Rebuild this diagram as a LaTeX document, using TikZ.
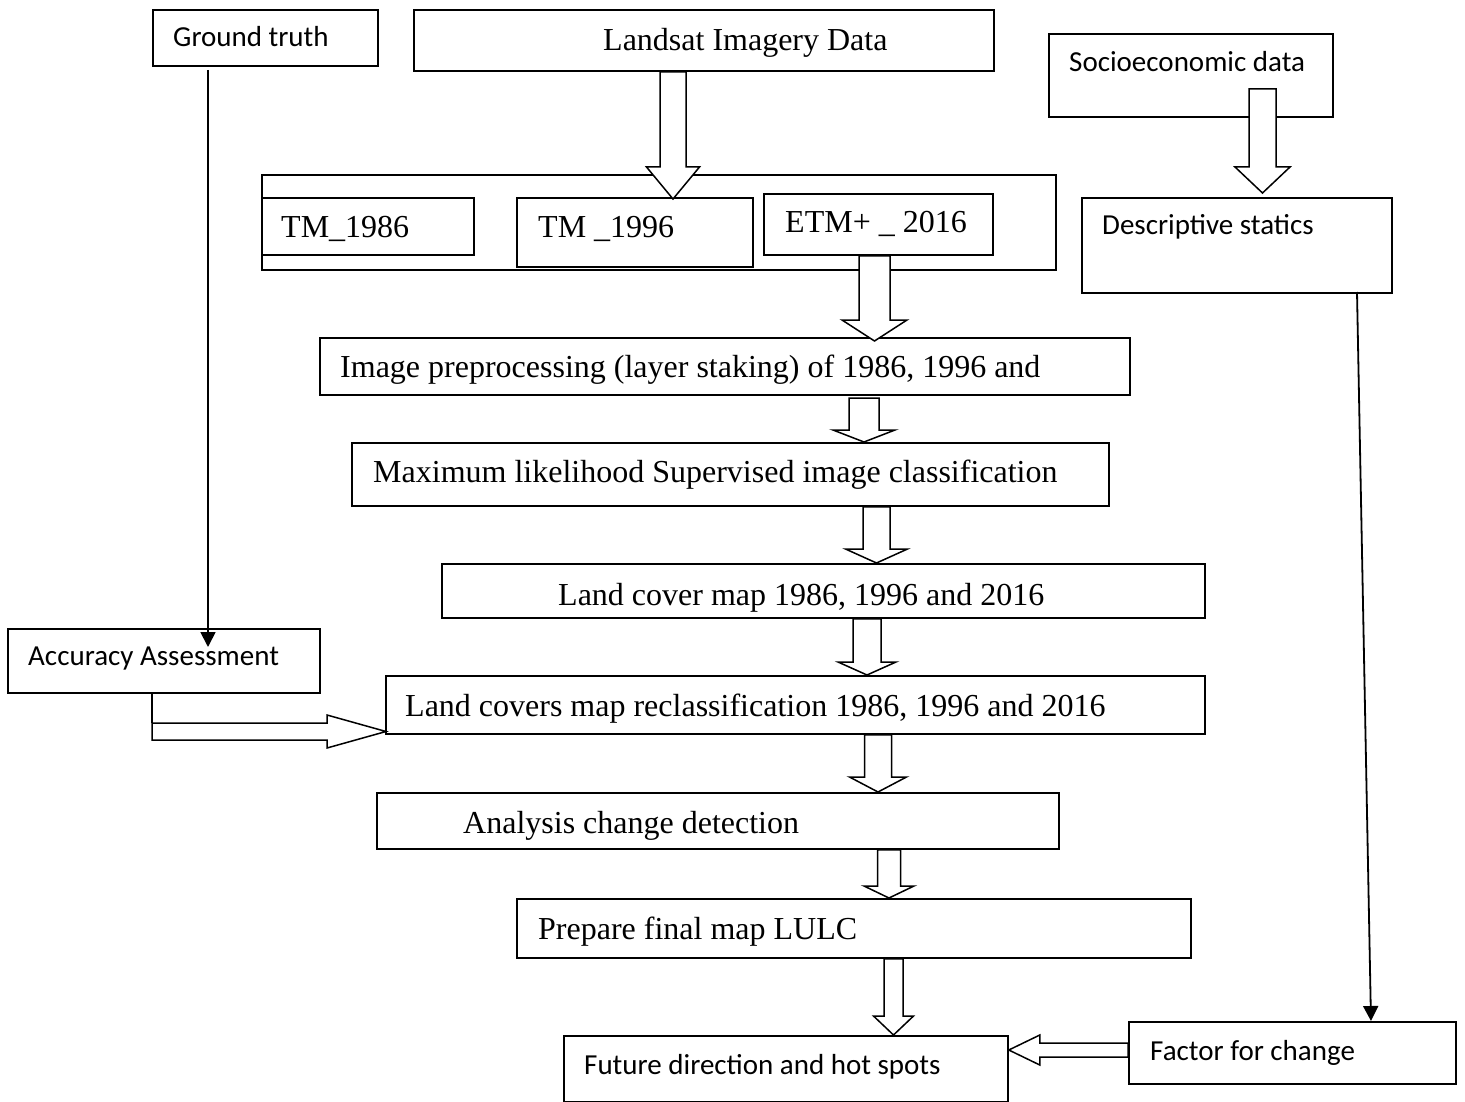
\documentclass[tikz,border=0pt]{standalone}
\usepackage{fontspec}
\setmainfont{Liberation Serif}
\newfontfamily\calib{Carlito}
\usetikzlibrary{calc, arrows.meta}

% hollow block arrow: from, to, shaft half width, head half width, head length
\newcommand{\hollowarrow}[5]{%
  \coordinate (hb) at ($(#2)!#5pt!(#1)$);
  \draw[hollow] ($(#1)!#3pt!90:(#2)$) -- ($(hb)!#3pt!90:(#2)$) -- ($(hb)!#4pt!90:(#2)$) -- (#2)
    -- ($(hb)!#4pt!-90:(#2)$) -- ($(hb)!#3pt!-90:(#2)$) -- ($(#1)!#3pt!-90:(#2)$) -- cycle;}

\begin{document}
\begin{tikzpicture}[x=1pt, y=-1pt,
  box/.style={draw, line width=1.8pt, anchor=north west, inner sep=0pt},
  times/.style={anchor=base west, inner sep=0pt, font=\fontsize{32}{38}\selectfont},
  cal/.style={anchor=base west, inner sep=0pt, font=\calib\fontsize{29}{35}\selectfont},
  hollow/.style={draw, fill=white, line width=1.5pt, line join=miter},
  link/.style={line width=1.8pt, -{Triangle[length=15pt, width=15pt]}}]

\useasboundingbox (0,0) rectangle (1465,1102);

% top row
\node[box, minimum width=225, minimum height=56] (gt) at (152,9) {};
\node[box, minimum width=580, minimum height=61] (landsat) at (413,9) {};
\node[box, minimum width=284, minimum height=83] (socio) at (1048,33) {};

% image years
\node[box, minimum width=794, minimum height=95] (years) at (261,174) {};
\node[box, minimum width=212, minimum height=57] (tm86) at (261,197) {};
\node[box, minimum width=236, minimum height=69] (tm96) at (516,197) {};
\node[box, minimum width=229, minimum height=61] (etm) at (763,193) {};
\node[box, minimum width=310, minimum height=95] (desc) at (1081,197) {};

% processing chain
\node[box, minimum width=810, minimum height=57] (prep) at (319,337) {};
\node[box, minimum width=757, minimum height=63] (maxlik) at (351,442) {};
\node[box, minimum width=763, minimum height=54] (lcm) at (441,563) {};
\node[box, minimum width=312, minimum height=64] (acc) at (7,628) {};
\node[box, minimum width=819, minimum height=58] (recl) at (385,675) {};
\node[box, minimum width=682, minimum height=56] (anal) at (376,792) {};
\node[box, minimum width=674, minimum height=59] (final) at (516,898) {};
\node[box, minimum width=444, minimum height=66] (future) at (563,1035) {};
\node[box, minimum width=327, minimum height=62] (factor) at (1128,1021) {};

% free ends of the connectors
\coordinate (socio-out) at (1262.5,89);
\coordinate (desc-in) at (1262.5,193);
\coordinate (prep-out) at (864,398);
\coordinate (acc-out) at (152,731.5);
\coordinate (recl-in) at (386,731.5);
\coordinate (gt-out) at (208,70);
\coordinate (acc-in) at (208,647);
\coordinate (desc-out) at (1357,292);

% block arrows
\hollowarrow{673,0 |- landsat.south}{673,199}{13}{26.5}{32}
\hollowarrow{socio-out}{desc-in}{13.5}{27.5}{26}
\hollowarrow{874.5,0 |- etm.south}{874.5,341}{15.5}{32.5}{21}
\hollowarrow{prep-out}{864,0 |- maxlik.north}{15}{31}{12}
\hollowarrow{876.5,0 |- maxlik.south}{876.5,0 |- lcm.north}{13.5}{31}{14}
\hollowarrow{867,0 |- lcm.south}{867,0 |- recl.north}{14}{29}{13}
\hollowarrow{878,0 |- recl.south}{878,0 |- anal.north}{13.5}{28.5}{15}
\hollowarrow{889,0 |- anal.south}{889,0 |- final.north}{11.5}{25}{12}
\hollowarrow{893.5,0 |- final.south}{893.5,0 |- future.north}{9.5}{20}{19}
\hollowarrow{factor.west |- 0,1050}{future.east |- 0,1050}{7}{15}{31}
\hollowarrow{acc-out}{recl-in}{8.5}{16.5}{59}
\draw[line width=1.5pt] (152,0 |- acc.south) -- (152,723);

% line arrows
\draw[link] (gt-out) -- (acc-in);
\draw[link] (desc-out) -- (1371,0 |- factor.north);

% texts
\node[cal] (gt-t) at (173,47) {Ground truth};
\node[times] (landsat-t) at (603,51) {Landsat Imagery Data};
\node[cal] (socio-t) at (1069,72) {Socioeconomic data};
\node[times] (tm86-t) at (281,238) {TM\_1986};
\node[times] (tm96-t) at (538,238) {TM \_1996};
\node[times] (etm-t) at (785,233) {ETM+ \_ 2016};
\node[cal] (desc-t) at (1102,235) {Descriptive statics};
\node[times] (prep-t) at (340,377) {Image preprocessing (layer staking) of 1986, 1996 and};
\node[times] (maxlik-t) at (373,482) {Maximum likelihood Supervised image classification};
\node[times] (lcm-t) at (558,605) {Land cover map 1986, 1996 and 2016};
\node[cal] (acc-t) at (28,665) {Accuracy Assessment};
\node[times] (recl-t) at (405,716) {Land covers map reclassification 1986, 1996 and 2016};
\node[times] (anal-t) at (463,833) {Analysis change detection};
\node[times] (final-t) at (538,939) {Prepare final map LULC};
\node[cal] (future-t) at (584,1074) {Future direction and hot spots};
\node[cal] (factor-t) at (1150,1060) {Factor for change};

\end{tikzpicture}
\end{document}
